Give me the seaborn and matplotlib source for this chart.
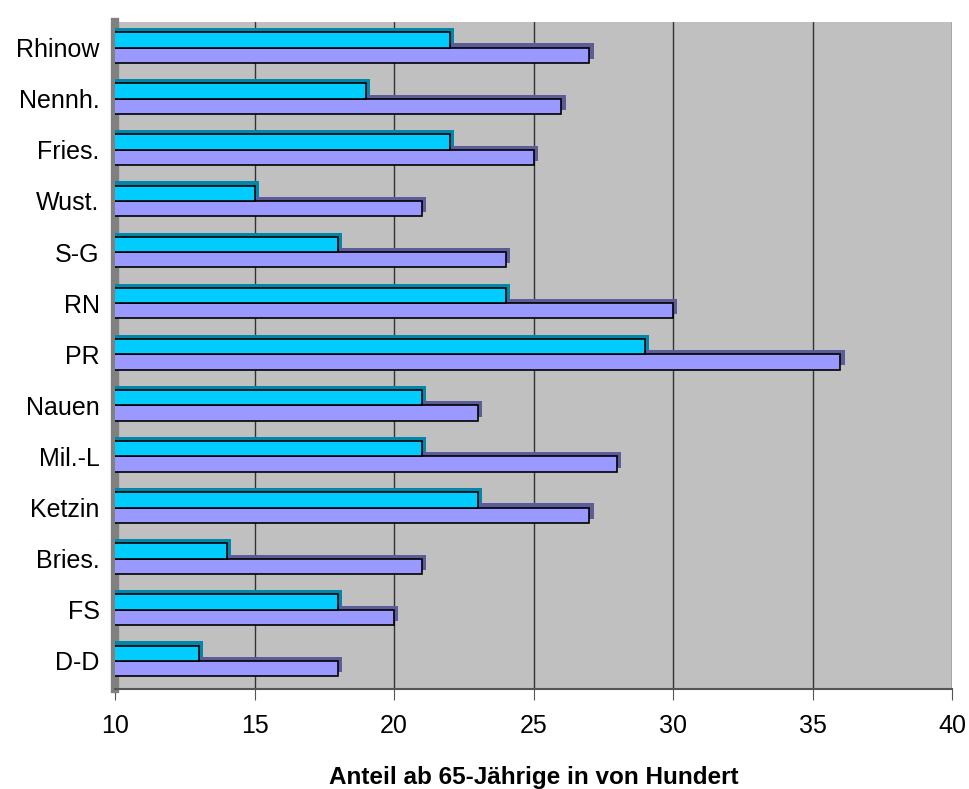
import numpy as np
import pandas as pd
import matplotlib
matplotlib.use("Agg")
import matplotlib.pyplot as plt
import matplotlib.patheffects as pe
import seaborn as sns

# Daten (von oben nach unten)
orte = ["Rhinow", "Nennh.", "Fries.", "Wust.", "S-G", "RN", "PR",
        "Nauen", "Mil.-L", "Ketzin", "Bries.", "FS", "D-D"]
reihe_1 = [22, 19, 22, 15, 18, 24, 29, 21, 21, 23, 14, 18, 13]
reihe_2 = [27, 26, 25, 21, 24, 30, 36, 23, 28, 27, 21, 20, 18]
serien = ["Reihe 1", "Reihe 2"]
x_ticks = [10, 15, 20, 25, 30, 35, 40]

df = pd.DataFrame({
    "Ort": orte * 2,
    "Wert": reihe_1 + reihe_2,
    "Serie": [serien[0]] * len(orte) + [serien[1]] * len(orte),
})

sns.set_style("white")
plt.rcParams["font.family"] = ["Liberation Sans", "DejaVu Sans"]
plt.rcParams["text.color"] = "black"
plt.rcParams["axes.labelcolor"] = "black"
plt.rcParams["xtick.labelcolor"] = "black"
plt.rcParams["ytick.labelcolor"] = "black"

fig = plt.figure(figsize=(9.7, 7.89), dpi=100)
ax = fig.add_axes([0.1186, 0.1267, 0.8629, 0.8454])
ax.set_facecolor("#c0c0c0")

farben = {"Reihe 1": "#00ccff", "Reihe 2": "#9999ff"}
sns.barplot(data=df, y="Ort", x="Wert", hue="Serie", order=orte,
            hue_order=serien, palette=farben, orient="h", width=0.6,
            saturation=1, edgecolor="black", linewidth=1.2, legend=False,
            ax=ax)

# einfacher 3D-Effekt
schatten = ["#0088aa", "#5c5c99"]
for i, cont in enumerate(ax.containers):
    for p in cont:
        p.set_zorder(4 - i)
        p.set_path_effects([
            pe.SimplePatchShadow(offset=(3, 3), shadow_rgbFace=schatten[i], alpha=1),
            pe.Normal(),
        ])

ax.set_xlim(10, 40)
ax.set_ylim(12.55, -0.45)
ax.set_xticks(x_ticks)
ax.xaxis.grid(True, color="#333333", linewidth=1)
ax.set_axisbelow(True)

ax.set_yticks(np.arange(-0.5, len(orte)), minor=True)
ax.tick_params(axis="y", which="major", length=0, labelsize=18, pad=11)
ax.tick_params(axis="y", which="minor", length=9, color="#555555", width=1)
ax.tick_params(axis="x", length=8, color="#555555", labelsize=18, pad=10,
               bottom=True)

for s in ["top", "right"]:
    ax.spines[s].set_visible(False)
ax.spines["left"].set_color("#808080")
ax.spines["left"].set_linewidth(6)
ax.spines["bottom"].set_color("#555555")
ax.spines["bottom"].set_linewidth(1.5)

ax.set_ylabel("")
ax.set_xlabel("Anteil ab 65-Jährige in von Hundert", fontsize=17.5,
              fontweight="bold", labelpad=20)

fig.savefig("out.png", dpi=100)
